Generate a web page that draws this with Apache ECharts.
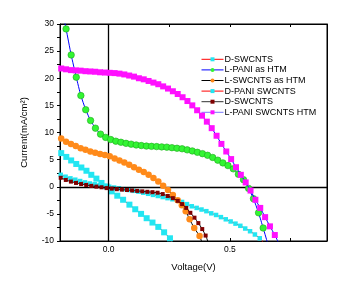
<!DOCTYPE html>
<html><head><meta charset="utf-8">
<script src="https://cdn.jsdelivr.net/npm/echarts@6/dist/echarts.min.js"></script>
<style>html,body{margin:0;padding:0;background:#fff}#c{width:351px;height:288px}</style>
</head><body><div id="c"></div>
<script>
// Legend names (as shown)
const seriesNames = ['D-SWCNTS', 'L-PANI as HTM', 'L-SWCNTS as HTM', 'D-PANI SWCNTS', 'D-SWCNTS', 'L-PANI SWCNTS HTM'];
// Axis ticks / labels
const xLabelValues = [0, 0.5];
const xTickValues = [0, 0.25, 0.5, 0.75];
const yLabelValues = [-10, -5, 0, 5, 10, 15, 20, 25, 30];
const yTickValues = [-10, -7.5, -5, -2.5, 0, 2.5, 5, 7.5, 10, 12.5, 15, 17.5, 20, 22.5, 25, 27.5, 30];

// [voltage V, current mA/cm2]
const dSwcnts1 = [[-0.195,6.2],[-0.174,5.5],[-0.154,4.85],[-0.133,4.2],[-0.112,3.55],[-0.091,2.95],[-0.071,2.2],[-0.05,1.5],[-0.029,0.7],[-0.008,0.05],[0.013,-0.85],[0.036,-1.65],[0.06,-2.4],[0.086,-3.3],[0.11,-4.15],[0.134,-5.0],[0.157,-5.8],[0.181,-6.6],[0.205,-7.4],[0.229,-8.4],[0.253,-9.5]];
const lPani = [[-0.175,29.1],[-0.154,24.3],[-0.133,20.2],[-0.114,16.8],[-0.094,14.2],[-0.074,12.2],[-0.054,10.8],[-0.033,9.7],[-0.012,9.1],[0.009,8.7],[0.030,8.4],[0.051,8.2],[0.072,8.0],[0.093,7.85],[0.114,7.7],[0.135,7.6],[0.156,7.5],[0.177,7.45],[0.198,7.4],[0.219,7.35],[0.240,7.3],[0.261,7.2],[0.282,7.1],[0.303,7.0],[0.324,6.8],[0.345,6.6],[0.366,6.35],[0.387,6.1],[0.408,5.8],[0.429,5.4],[0.450,4.9],[0.471,4.4],[0.492,3.9],[0.514,3.3],[0.535,2.3],[0.556,1.3],[0.577,-0.3],[0.597,-2.2],[0.618,-4.8],[0.637,-7.6]];
const lSwcnts = [[-0.195,8.9],[-0.175,8.3],[-0.155,7.9],[-0.135,7.5],[-0.115,7.1],[-0.095,6.8],[-0.075,6.5],[-0.055,6.25],[-0.035,6.05],[-0.015,5.85],[0.005,5.6],[0.025,5.2],[0.045,4.85],[0.065,4.45],[0.085,4.05],[0.105,3.6],[0.125,3.15],[0.145,2.7],[0.165,2.2],[0.185,1.6],[0.205,0.95],[0.225,0.2],[0.245,-0.6],[0.265,-1.5],[0.285,-2.5],[0.302,-3.4],[0.318,-4.5],[0.334,-6.0],[0.353,-7.6],[0.375,-9.1]];
const dPaniSwcnts = [[-0.197,2.2],[-0.177,1.85],[-0.157,1.55],[-0.137,1.3],[-0.117,1.05],[-0.097,0.8],[-0.077,0.6],[-0.057,0.45],[-0.037,0.3],[-0.017,0.15],[0.003,0.0],[0.023,-0.15],[0.043,-0.3],[0.063,-0.45],[0.083,-0.6],[0.103,-0.75],[0.123,-0.9],[0.143,-1.1],[0.163,-1.3],[0.183,-1.5],[0.203,-1.7],[0.223,-1.9],[0.243,-2.1],[0.263,-2.3],[0.283,-2.5],[0.303,-2.8],[0.323,-3.2],[0.343,-3.6],[0.363,-3.9],[0.383,-4.2],[0.403,-4.5],[0.423,-4.9],[0.443,-5.2],[0.463,-5.6],[0.483,-6.0],[0.503,-6.4],[0.523,-6.8],[0.543,-7.2],[0.563,-7.7],[0.583,-8.2],[0.603,-8.8],[0.623,-9.5]];
const dSwcnts2 = [[-0.197,1.65],[-0.176,1.25],[-0.155,0.95],[-0.134,0.7],[-0.113,0.5],[-0.092,0.32],[-0.071,0.15],[-0.05,0.02],[-0.029,-0.1],[-0.008,-0.25],[0.013,-0.35],[0.034,-0.45],[0.055,-0.53],[0.076,-0.6],[0.097,-0.68],[0.118,-0.76],[0.139,-0.85],[0.16,-0.93],[0.181,-1.0],[0.202,-1.1],[0.223,-1.35],[0.244,-1.7],[0.265,-2.1],[0.285,-2.6],[0.303,-3.2],[0.32,-3.9],[0.337,-4.8],[0.354,-5.7],[0.37,-6.7],[0.386,-7.8],[0.4,-9.0]];
const lPaniSwcnts = [[-0.195,21.8],[-0.175,21.65],[-0.155,21.5],[-0.135,21.45],[-0.115,21.4],[-0.095,21.3],[-0.075,21.25],[-0.055,21.2],[-0.035,21.1],[-0.015,21.05],[0.005,21.0],[0.025,20.95],[0.045,20.85],[0.065,20.7],[0.085,20.5],[0.105,20.3],[0.125,20.0],[0.145,19.8],[0.165,19.5],[0.185,19.2],[0.205,18.9],[0.225,18.5],[0.245,18.1],[0.265,17.6],[0.285,17.1],[0.305,16.5],[0.325,15.8],[0.345,15.0],[0.365,14.1],[0.385,13.1],[0.405,12.0],[0.425,10.8],[0.445,9.4],[0.465,7.9],[0.485,6.5],[0.505,5.1],[0.525,3.6],[0.545,2.2],[0.565,0.8],[0.585,-0.7],[0.605,-2.4],[0.625,-3.9],[0.645,-5.6],[0.665,-7.3],[0.685,-8.9]];
// where each drawn line leaves the plot (no marker there)
const lineStarts = [null, [-0.186,31.5], null, null, null, null];
const lineEnds = [[0.262,-10.4], [0.656,-10.5], [0.386,-10.4], [0.64,-10.4], [0.412,-10.4], [0.70,-10.3]];

const seriesData = [dSwcnts1, lPani, lSwcnts, dPaniSwcnts, dSwcnts2, lPaniSwcnts];
const markerColors = ['#22e6f2', '#33f533', '#ff8a1a', '#22e6f2', '#800000', '#ff10ff'];
const lineColors = ['#ff0000', '#0000ff', '#000000', '#ff0000', '#000000', '#0000ff'];
const legendLineColors = ['#ff0000', '#0000ff', '#000000', '#ff0000', '#333333', '#7777ff'];
const symbols = ['rect', 'circle', 'circle', 'rect', 'rect', 'rect'];
const symbolSizes = [6, 6.5, 6.5, 4.5, 4, 6];
const drawOrder = [0, 3, 2, 4, 1, 5];

function build(i) {
  const out = [];
  if (lineStarts[i]) out.push({value: lineStarts[i], symbol: 'none'});
  seriesData[i].forEach(p => out.push(p.slice()));
  if (lineEnds[i]) out.push({value: lineEnds[i], symbol: 'none'});
  return out;
}
// unique internal names so both "D-SWCNTS" entries appear in the legend
const uniqNames = seriesNames.map((n, i) => i === 4 ? n + ' ' : n);

const series = drawOrder.map(i => ({
  name: uniqNames[i],
  type: 'line',
  data: build(i),
  symbol: symbols[i],
  symbolSize: symbolSizes[i],
  showAllSymbol: true,
  smooth: 0.2,
  clip: true,
  itemStyle: {color: markerColors[i], borderWidth: i === 1 ? 0.6 : 0, borderColor: '#1fa81f'},
  lineStyle: {color: lineColors[i], width: 1},
  z: 3 + drawOrder.indexOf(i)
}));
series.unshift({
  name: 'zero', type: 'line', data: [], silent: true, z: 2,
  markLine: {silent: true, symbol: ['none', 'none'], animation: false, label: {show: false},
    lineStyle: {color: '#000', type: 'solid', width: 1.3},
    data: [{xAxis: 0}, {yAxis: 0}]}
});

const chart = echarts.init(document.getElementById('c'), null, {renderer: 'canvas'});
const font = '"Liberation Sans", Arial, sans-serif';
chart.setOption({
  animation: false,
  backgroundColor: '#fff',
  textStyle: {fontFamily: font},
  grid: {left: 60, right: 24, top: 24, bottom: 47, show: true, borderColor: '#000', borderWidth: 1},
  legend: {
    orient: 'vertical', left: 201, top: 54, padding: 0,
    data: uniqNames.map((n, i) => ({
      name: n,
      itemStyle: {color: markerColors[i], borderWidth: 0},
      lineStyle: {color: legendLineColors[i], width: 1}
    })),
    itemWidth: 22, itemHeight: 5, itemGap: 0,
    textStyle: {fontSize: 9, lineHeight: 10.6, color: '#000', fontFamily: font, padding: [0, 0, 0, -4]},
    selectedMode: false
  },
  xAxis: [{
    type: 'value', position: 'bottom', min: -0.2, max: 0.9,
    name: 'Voltage(V)', nameLocation: 'middle', nameGap: 21,
    nameTextStyle: {fontSize: 9.5, color: '#000', fontFamily: font},
    axisLine: {show: true, onZero: false, lineStyle: {color: '#000', width: 1}},
    axisTick: {show: true, inside: true, length: 3, customValues: xTickValues, lineStyle: {color: '#000'}},
    axisLabel: {show: true, customValues: xLabelValues, formatter: v => v.toFixed(1), fontSize: 8.5, color: '#000', margin: 4},
    splitLine: {show: false}
  }, {
    type: 'value', position: 'top', min: -0.2, max: 0.9,
    axisLine: {show: true, onZero: false, lineStyle: {color: '#000', width: 1}},
    axisTick: {show: true, inside: true, length: 3, customValues: xTickValues, lineStyle: {color: '#000'}},
    axisLabel: {show: false}, splitLine: {show: false}
  }],
  yAxis: [{
    type: 'value', position: 'left', min: -10, max: 30, interval: 5,
    name: 'Current(mA/cm²)', nameLocation: 'middle', nameGap: 31, nameRotate: 90,
    nameTextStyle: {fontSize: 9.5, color: '#000', fontFamily: font},
    axisLine: {show: true, onZero: false, lineStyle: {color: '#000', width: 1}},
    axisTick: {show: true, inside: false, length: 3, customValues: yTickValues, lineStyle: {color: '#000'}},
    axisLabel: {show: true, customValues: yLabelValues, fontSize: 8.5, color: '#000', margin: 6},
    splitLine: {show: false}
  }, {
    type: 'value', position: 'right', min: -10, max: 30,
    axisLine: {show: true, onZero: false, lineStyle: {color: '#000', width: 1}},
    axisTick: {show: false}, axisLabel: {show: false}, splitLine: {show: false}
  }],
  series: series
});
</script>
</body></html>
